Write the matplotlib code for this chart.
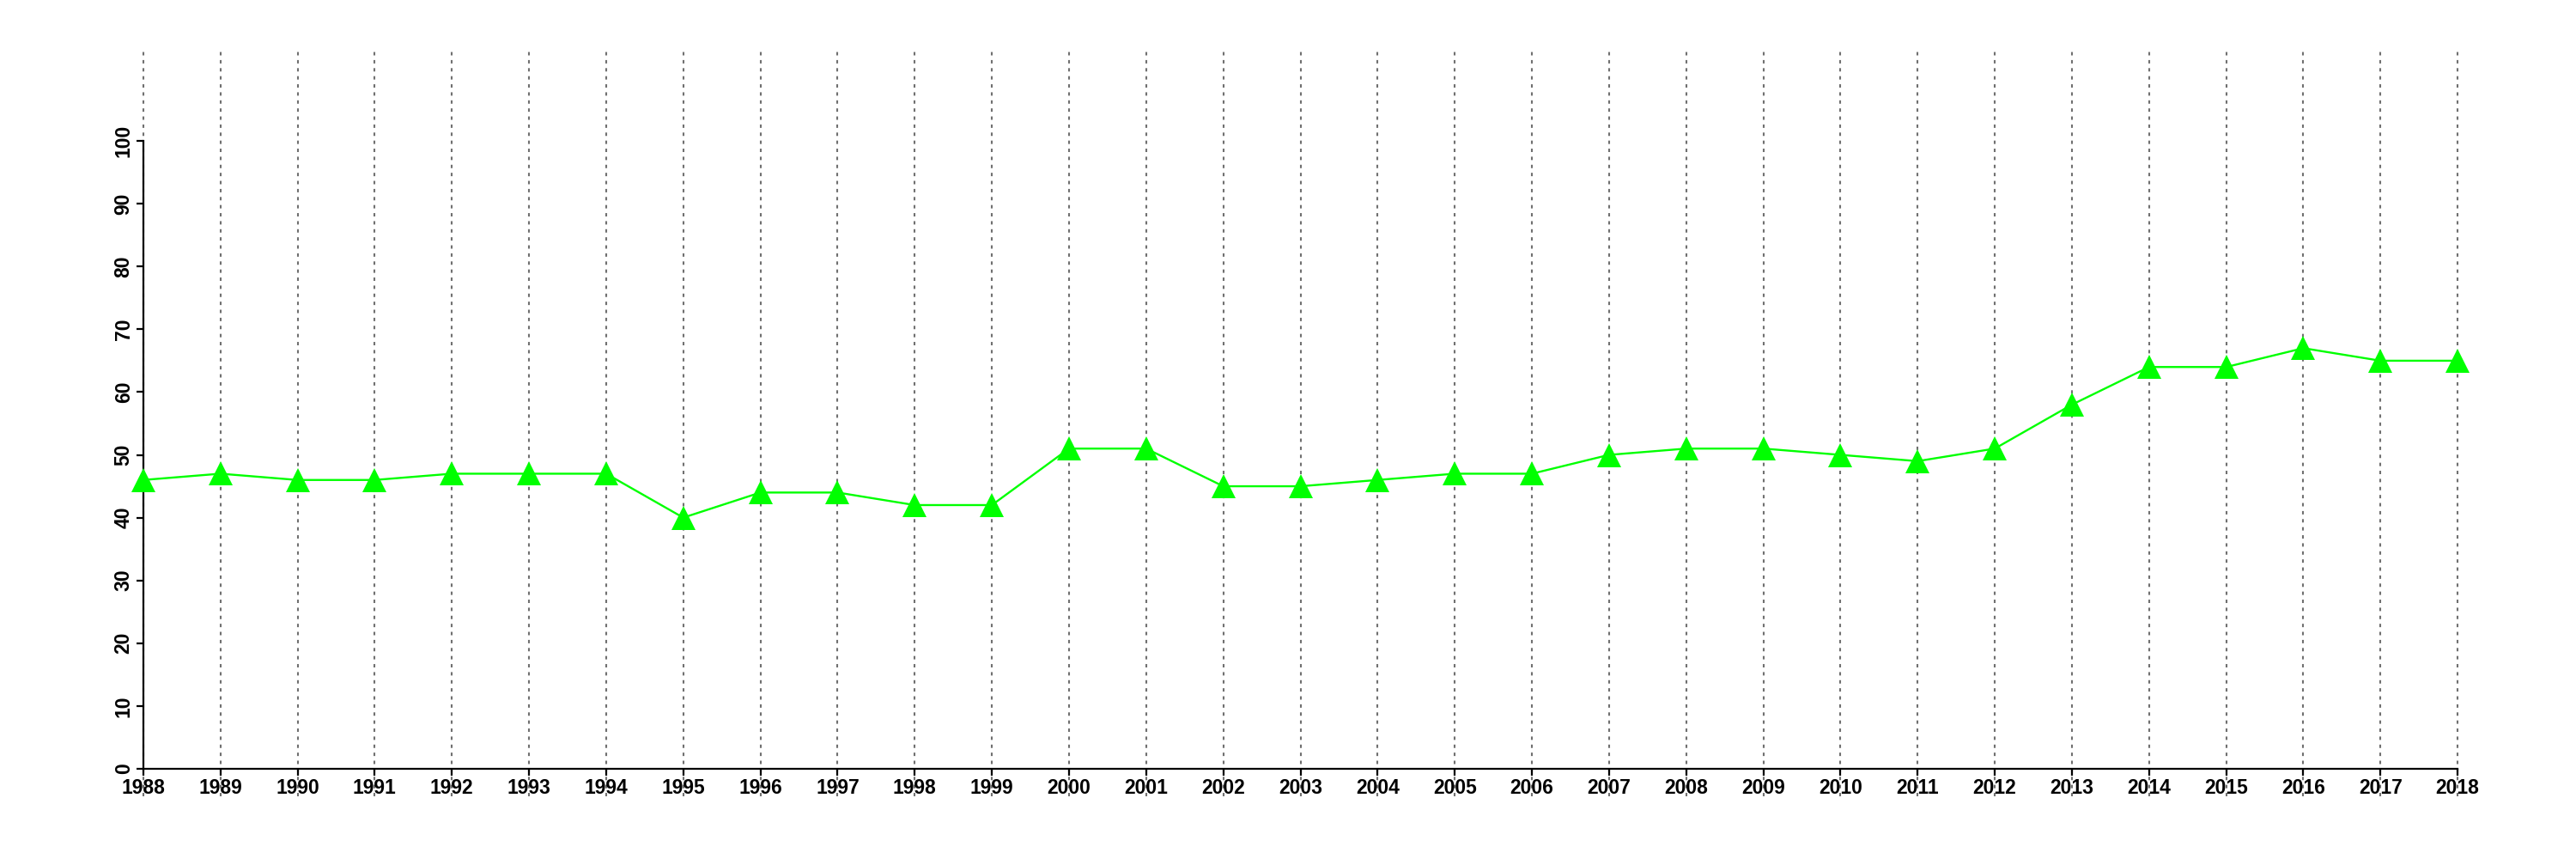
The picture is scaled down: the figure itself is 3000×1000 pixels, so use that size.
import matplotlib
matplotlib.use("Agg")
import matplotlib.pyplot as plt

years = list(range(1988, 2019))
values = [46, 47, 46, 46, 47, 47, 47, 40, 44, 44, 42, 42, 51, 51, 45, 45,
          46, 47, 47, 50, 51, 51, 50, 49, 51, 58, 64, 64, 67, 65, 65]
y_ticks = [0, 10, 20, 30, 40, 50, 60, 70, 80, 90, 100]

plt.rcParams['font.family'] = ['Liberation Sans', 'DejaVu Sans']

fig = plt.figure(figsize=(30, 10), dpi=100)
ax = fig.add_axes([59/3000, 0.073, (2970-59)/3000, 0.941-0.073])

ax.set_xlim(1986.8, 2019.2)
ax.set_ylim(-4.4, 114.4)

for yr in years:
    ax.axvline(yr, color='#707070', lw=1.5, linestyle=(0, (1.9, 2.6)), zorder=1)

ax.plot(years, values, color='#00ff00', lw=1.7, marker='^', markersize=19.5,
        markeredgewidth=0, zorder=3, clip_on=False)

for s in ['top', 'right']:
    ax.spines[s].set_visible(False)
ax.spines['left'].set_position(('data', 1988))
ax.spines['bottom'].set_position(('data', 0))
ax.spines['left'].set_bounds(0, 100)
ax.spines['bottom'].set_bounds(1988, 2018)
for s in ['left', 'bottom']:
    ax.spines[s].set_linewidth(1.6)
    ax.spines[s].set_zorder(2)

ax.set_xticks(years)
ax.set_xticklabels([str(y) for y in years], fontsize=16.5, fontweight='bold')
ax.set_yticks(y_ticks)
ax.set_yticklabels([str(v) for v in y_ticks], fontsize=16.5, fontweight='bold',
                   rotation=90, va='center')
ax.tick_params(axis='both', length=6, width=1.6, pad=2)

fig.savefig('out.png', dpi=100, facecolor='white')
